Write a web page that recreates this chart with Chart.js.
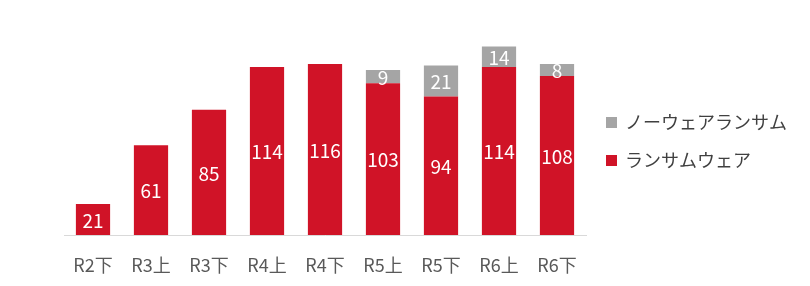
<!DOCTYPE html>
<html>
<head>
<meta charset="utf-8">
<script src="https://cdn.jsdelivr.net/npm/chart.js@4/dist/chart.umd.min.js"></script>
<style>
  html, body { margin: 0; padding: 0; background: #fff; }
  #wrap { width: 810px; height: 286px; position: relative; }
</style>
</head>
<body>
<div id="wrap"><canvas id="chart"></canvas></div>
<script>
var categories = ['R2下', 'R3上', 'R3下', 'R4上', 'R4下', 'R5上', 'R5下', 'R6上', 'R6下'];
var ransomware = [21, 61, 85, 114, 116, 103, 94, 114, 108];
var noware     = [null, null, null, null, null, 9, 21, 14, 8];
var seriesNames = ['ランサムウェア', 'ノーウェアランサム'];

var RED  = '#D01327';
var GRAY = '#A5A5A5';
var FONT = '"Noto Sans CJK JP", "Noto Sans", sans-serif';

// white value labels centred in each segment
var barLabels = {
    id: 'barLabels',
    afterDatasetsDraw: function (chart) {
        var ctx = chart.ctx;
        ctx.save();
        ctx.fillStyle = '#fff';
        ctx.font = '19px ' + FONT;
        ctx.textAlign = 'center';
        ctx.textBaseline = 'middle';
        chart.data.datasets.forEach(function (ds, i) {
            chart.getDatasetMeta(i).data.forEach(function (bar, j) {
                if (ds.data[j] == null) return;
                var mid = (bar.y + bar.base) / 2;
                ctx.fillText(String(ds.data[j]), bar.x, mid + 1);
            });
        });
        ctx.restore();
    }
};

// legend on the right, gray item on top
var sideLegend = {
    id: 'sideLegend',
    afterDraw: function (chart) {
        var ctx = chart.ctx;
        var items = [
            { text: seriesNames[1], color: GRAY, y: 122 },
            { text: seriesNames[0], color: RED,  y: 160 }
        ];
        ctx.save();
        ctx.font = '18px ' + FONT;
        ctx.textBaseline = 'middle';
        ctx.textAlign = 'left';
        items.forEach(function (it) {
            ctx.fillStyle = it.color;
            ctx.fillRect(606, it.y - 5, 11, 11);
            ctx.fillStyle = '#404040';
            ctx.fillText(it.text, 625, it.y);
        });
        ctx.restore();
    }
};

new Chart(document.getElementById('chart'), {
    type: 'bar',
    data: {
        labels: categories,
        datasets: [
            {
                label: seriesNames[0],
                data: ransomware,
                backgroundColor: RED,
                borderWidth: 0,
                barPercentage: 0.59,
                categoryPercentage: 1.0
            },
            {
                label: seriesNames[1],
                data: noware,
                backgroundColor: GRAY,
                borderWidth: 0,
                barPercentage: 0.59,
                categoryPercentage: 1.0
            }
        ]
    },
    options: {
        responsive: true,
        maintainAspectRatio: false,
        animation: false,
        layout: { padding: { left: 64, right: 224, top: 14, bottom: 11 } },
        plugins: {
            legend: { display: false },
            tooltip: { enabled: false }
        },
        scales: {
            x: {
                stacked: true,
                grid: { display: false, drawTicks: false },
                border: { display: true, color: '#D9D9D9', width: 1 },
                ticks: { color: '#595959', font: { family: FONT, size: 18 }, padding: 19 },
                afterFit: function (scale) { scale.height = 40; }
            },
            y: {
                stacked: true,
                display: false,
                min: 0,
                max: 150
            }
        }
    },
    plugins: [barLabels, sideLegend]
});
</script>
</body>
</html>
